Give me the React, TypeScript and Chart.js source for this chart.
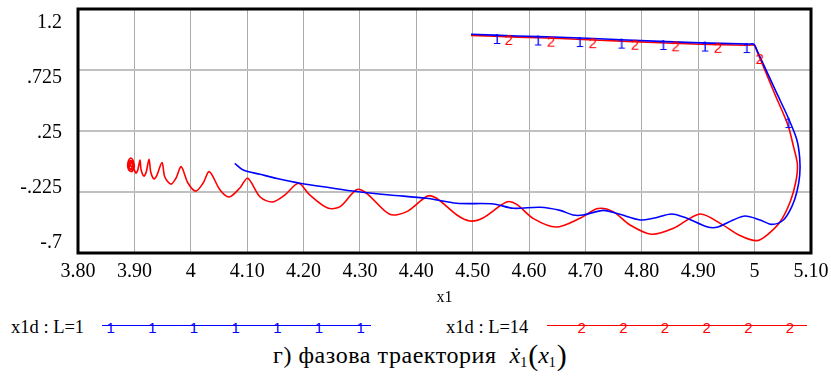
import React, { useEffect, useRef } from 'react';
import { Chart, registerables } from 'chart.js';

Chart.register(...registerables);

const SERIF = "'Liberation Serif', 'Times New Roman', serif";
const SANS = "'Liberation Sans', Arial, sans-serif";
const BLUE = '#0000ff';
const RED = '#ff0000';

// axis ticks
const xTicks = [3.8, 3.9, 4.0, 4.1, 4.2, 4.3, 4.4, 4.5, 4.6, 4.7, 4.8, 4.9, 5.0, 5.1];
const xTickLabels = ['3.80', '3.90', '4', '4.10', '4.20', '4.30', '4.40', '4.50', '4.60', '4.70', '4.80', '4.90', '5', '5.10'];
const yTicks = [1.2, 0.725, 0.25, -0.225, -0.7];
const yTickLabels = ['1.2', '.725', '.25', '-.225', '-.7'];

// trace 1: x1d(x1), L = 1
const x1_L1 = [
  4.497, 4.579, 4.655, 4.774, 4.891, 4.990, 4.999, 5.004, 5.038, 5.060, 5.075, 5.080, 5.080, 5.075,
  5.066, 5.051, 5.030, 5.010, 4.983, 4.962, 4.933, 4.915, 4.880, 4.853, 4.820, 4.797, 4.761, 4.732,
  4.696, 4.678, 4.655, 4.619, 4.572, 4.537, 4.472, 4.418, 4.353, 4.294, 4.247, 4.194, 4.153, 4.123,
  4.093, 4.078,
];
const x1d_L1 = [
  1.003, 0.990, 0.980, 0.959, 0.938, 0.927, 0.925, 0.880, 0.556, 0.349, 0.180, 0.037, -0.093, -0.223,
  -0.339, -0.443, -0.477, -0.443, -0.412, -0.443, -0.500, -0.495, -0.430, -0.396, -0.430, -0.443, -0.399, -0.368,
  -0.404, -0.404, -0.368, -0.344, -0.352, -0.318, -0.313, -0.274, -0.248, -0.221, -0.192, -0.157, -0.120, -0.087,
  -0.054, -0.002,
];

// trace 2: x1d(x1), L = 14
const x1_L14 = [
  4.497, 4.579, 4.655, 4.774, 4.891, 4.990, 4.999, 5.004, 5.035, 5.059, 5.069, 5.076, 5.073, 5.063,
  5.045, 5.022, 5.004, 4.974, 4.939, 4.903, 4.856, 4.817, 4.779, 4.749, 4.722, 4.690, 4.648, 4.607,
  4.578, 4.560, 4.519, 4.495, 4.472, 4.436, 4.420, 4.383, 4.353, 4.312, 4.294, 4.265, 4.243, 4.211,
  4.191, 4.167, 4.145, 4.123, 4.101, 4.087, 4.068, 4.052, 4.033, 4.022, 4.009, 3.995, 3.983, 3.974,
  3.965, 3.954, 3.949, 3.940, 3.935, 3.929, 3.926, 3.921, 3.917, 3.912, 3.910, 3.906, 3.903,
  3.899, 3.898, 3.894, 3.890, 3.888, 3.890, 3.896, 3.900, 3.898, 3.893, 3.890, 3.892, 3.897, 3.898,
  3.895, 3.891, 3.890, 3.893, 3.896, 3.896, 3.893, 3.893, 3.895,
];
const x1d_L14 = [
  0.995, 0.981, 0.970, 0.948, 0.927, 0.918, 0.918, 0.874, 0.546, 0.297, 0.128, -0.015, -0.147, -0.303,
  -0.459, -0.560, -0.604, -0.564, -0.469, -0.396, -0.508, -0.554, -0.482, -0.378, -0.354, -0.430, -0.498, -0.430,
  -0.321, -0.303, -0.425, -0.451, -0.404, -0.274, -0.256, -0.378, -0.399, -0.235, -0.207, -0.339, -0.350, -0.248,
  -0.157, -0.248, -0.303, -0.264, -0.118, -0.194, -0.264, -0.210, -0.067, -0.155, -0.218, -0.155, -0.028, -0.116,
  -0.164, -0.108, 0.005, -0.093, -0.124, -0.069, 0.030, -0.069, -0.101, -0.054, 0.024, -0.054, -0.077,
  -0.038, 0.016, 0.040, 0.024, -0.015, -0.054, -0.065, -0.030, 0.009, 0.020, -0.007, -0.042, -0.052, -0.015,
  0.012, 0.008, -0.025, -0.046, -0.032, -0.005, 0.000, -0.023, -0.023,
];

// trace symbols placed along each curve
const markX_L1 = [4.543, 4.616, 4.690, 4.764, 4.838, 4.912, 4.986, 5.060];
const markY_L1 = [0.998, 0.986, 0.974, 0.962, 0.951, 0.939, 0.927, 0.343];
const markX_L14 = [4.564, 4.639, 4.713, 4.788, 4.860, 4.935, 5.009];
const markY_L14 = [0.990, 0.977, 0.965, 0.953, 0.941, 0.929, 0.842];

const toPoints = (xs: number[], ys: number[]) => xs.map((x, i) => ({ x, y: ys[i] }));

// glyph drawn just below its anchor point, like the plot's trace symbols
function symbolImage(ch: string, color: string): HTMLCanvasElement {
  const c = document.createElement('canvas');
  c.width = 16;
  c.height = 32;
  const g = c.getContext('2d');
  if (g) {
    g.font = `15px ${SANS}`;
    g.fillStyle = color;
    g.textAlign = 'center';
    g.textBaseline = 'alphabetic';
    g.fillText(ch, 8, 16 - 2 + 10.7);
  }
  return c;
}

const fixedTicks = (values: number[]) => (scale: any) => {
  scale.ticks = values.map((value) => ({ value }));
};

const framePlugin = {
  id: 'plotFrame',
  afterDraw(chart: any) {
    const { ctx, chartArea: a } = chart;
    ctx.save();
    ctx.strokeStyle = '#000';
    ctx.lineWidth = 3;
    ctx.strokeRect(a.left, a.top, a.right - a.left, a.bottom - a.top);
    ctx.restore();
  },
};

function TraceSample(props: {
  left: number; top: number; width: number; color: string; symbol: string; count: number; first: number; step: number;
}) {
  const { left, top, width, color, symbol, count, first, step } = props;
  return (
    <div style={{ position: 'absolute', left, top, width, height: 0, borderTop: `1.4px solid ${color}` }}>
      {Array.from({ length: count }, (_, i) => (
        <span
          key={i}
          style={{
            position: 'absolute',
            left: first + i * step,
            top: -6,
            transform: 'translateX(-50%)',
            font: `15px/15px ${SANS}`,
            color,
          }}
        >
          {symbol}
        </span>
      ))}
    </div>
  );
}

export default function App() {
  const ref = useRef<HTMLCanvasElement>(null);

  useEffect(() => {
    if (!ref.current) return;
    const sym1 = symbolImage('1', BLUE);
    const sym2 = symbolImage('2', RED);
    const chart = new Chart(ref.current, {
      type: 'scatter',
      data: {
        datasets: [
          {
            label: 'x1d : L=14 symbols',
            data: toPoints(markX_L14, markY_L14),
            pointStyle: sym2 as any,
            pointRadius: 5,
            showLine: false,
            xAxisID: 'x',
            yAxisID: 'y',
          },
          {
            label: 'x1d : L=1 symbols',
            data: toPoints(markX_L1, markY_L1),
            pointStyle: sym1 as any,
            pointRadius: 5,
            showLine: false,
            xAxisID: 'x',
            yAxisID: 'y',
          },
          {
            label: 'x1d : L=1',
            data: toPoints(x1_L1, x1d_L1),
            showLine: true,
            borderColor: BLUE,
            borderWidth: 1.6,
            pointRadius: 0,
            tension: 0.3,
            xAxisID: 'x',
            yAxisID: 'y',
          },
          {
            label: 'x1d : L=14',
            data: toPoints(x1_L14, x1d_L14),
            showLine: true,
            borderColor: RED,
            borderWidth: 1.6,
            pointRadius: 0,
            tension: 0.3,
            xAxisID: 'x',
            yAxisID: 'y',
          },
        ],
      },
      options: {
        animation: false,
        responsive: false,
        events: [],
        layout: { padding: { left: 0, top: 9, right: 20, bottom: 0 } },
        plugins: { legend: { display: false }, tooltip: { enabled: false } },
        scales: {
          x: {
            type: 'linear',
            position: 'bottom',
            min: 3.8,
            max: 5.1,
            afterBuildTicks: fixedTicks(xTicks),
            afterFit: (s: any) => {
              s.height = 59;
              s.paddingLeft = 0;
              s.paddingRight = 0;
            },
            grid: { display: true, color: 'rgb(172,172,172)', lineWidth: 1, drawTicks: false },
            border: { display: false },
            ticks: {
              autoSkip: false,
              maxRotation: 0,
              padding: 7,
              color: '#000',
              font: { family: SERIF, size: 20 },
              callback: (_v: any, i: number) => xTickLabels[i],
            },
            title: {
              display: true,
              text: 'x1',
              color: '#000',
              font: { family: SERIF, size: 16 },
              padding: { top: 0, bottom: 5 },
            },
          },
          y: {
            type: 'linear',
            position: 'left',
            min: -0.7,
            max: 1.2,
            afterBuildTicks: fixedTicks(yTicks),
            afterFit: (s: any) => {
              s.width = 0;
              s.paddingTop = 0;
              s.paddingBottom = 0;
            },
            grid: { display: true, color: 'rgb(192,192,192)', lineWidth: 2, drawTicks: false },
            border: { display: false },
            ticks: { display: false },
          },
          yLabels: {
            type: 'linear',
            position: 'left',
            min: -0.7862,
            max: 1.3163,
            afterBuildTicks: fixedTicks(yTicks),
            afterFit: (s: any) => {
              s.width = 78;
              s.paddingTop = 0;
              s.paddingBottom = 0;
            },
            grid: { display: false, drawTicks: false },
            border: { display: false },
            ticks: {
              padding: 16,
              color: '#000',
              font: { family: SERIF, size: 20 },
              callback: (_v: any, i: number) => yTickLabels[i],
            },
          },
        },
      } as any,
      plugins: [framePlugin],
    });
    return () => chart.destroy();
  }, []);

  return (
    <div
      style={{
        position: 'absolute',
        left: 0,
        top: 0,
        width: 831,
        height: 376,
        background: '#fff',
        fontFamily: SERIF,
        color: '#000',
        overflow: 'hidden',
      }}
    >
      <canvas ref={ref} width={831} height={312} style={{ position: 'absolute', left: 0, top: 0 }} />

      <div style={{ position: 'absolute', left: 11, top: 317.5, fontSize: 18.5, lineHeight: '18px', whiteSpace: 'pre' }}>
        x1d : L=1
      </div>
      <TraceSample left={101.7} top={324.6} width={269} color={BLUE} symbol="1" count={7} first={9} step={41.67} />

      <div style={{ position: 'absolute', left: 446, top: 317.5, fontSize: 18.5, lineHeight: '18px', whiteSpace: 'pre' }}>
        x1d : L=14
      </div>
      <TraceSample left={546.7} top={324.6} width={260} color={RED} symbol="2" count={6} first={35} step={41.67} />

      <div style={{ position: 'absolute', left: 273, top: 341.5, fontSize: 24, lineHeight: '26px', whiteSpace: 'nowrap' }}>
        <span style={{ letterSpacing: '0.55px' }}>г) фазова траектория</span>
        <span style={{ display: 'inline-block', width: 13 }} />
        <i>ẋ</i>
        <sub style={{ fontSize: 14, verticalAlign: '-4px' }}>1</sub>
        <span style={{ fontSize: 30, lineHeight: '26px', verticalAlign: '-2px', margin: '0 0 0 1px' }}>(</span>
        <i>x</i>
        <sub style={{ fontSize: 14, verticalAlign: '-4px' }}>1</sub>
        <span style={{ fontSize: 30, lineHeight: '26px', verticalAlign: '-2px', margin: '0 0 0 1px' }}>)</span>
      </div>
    </div>
  );
}
